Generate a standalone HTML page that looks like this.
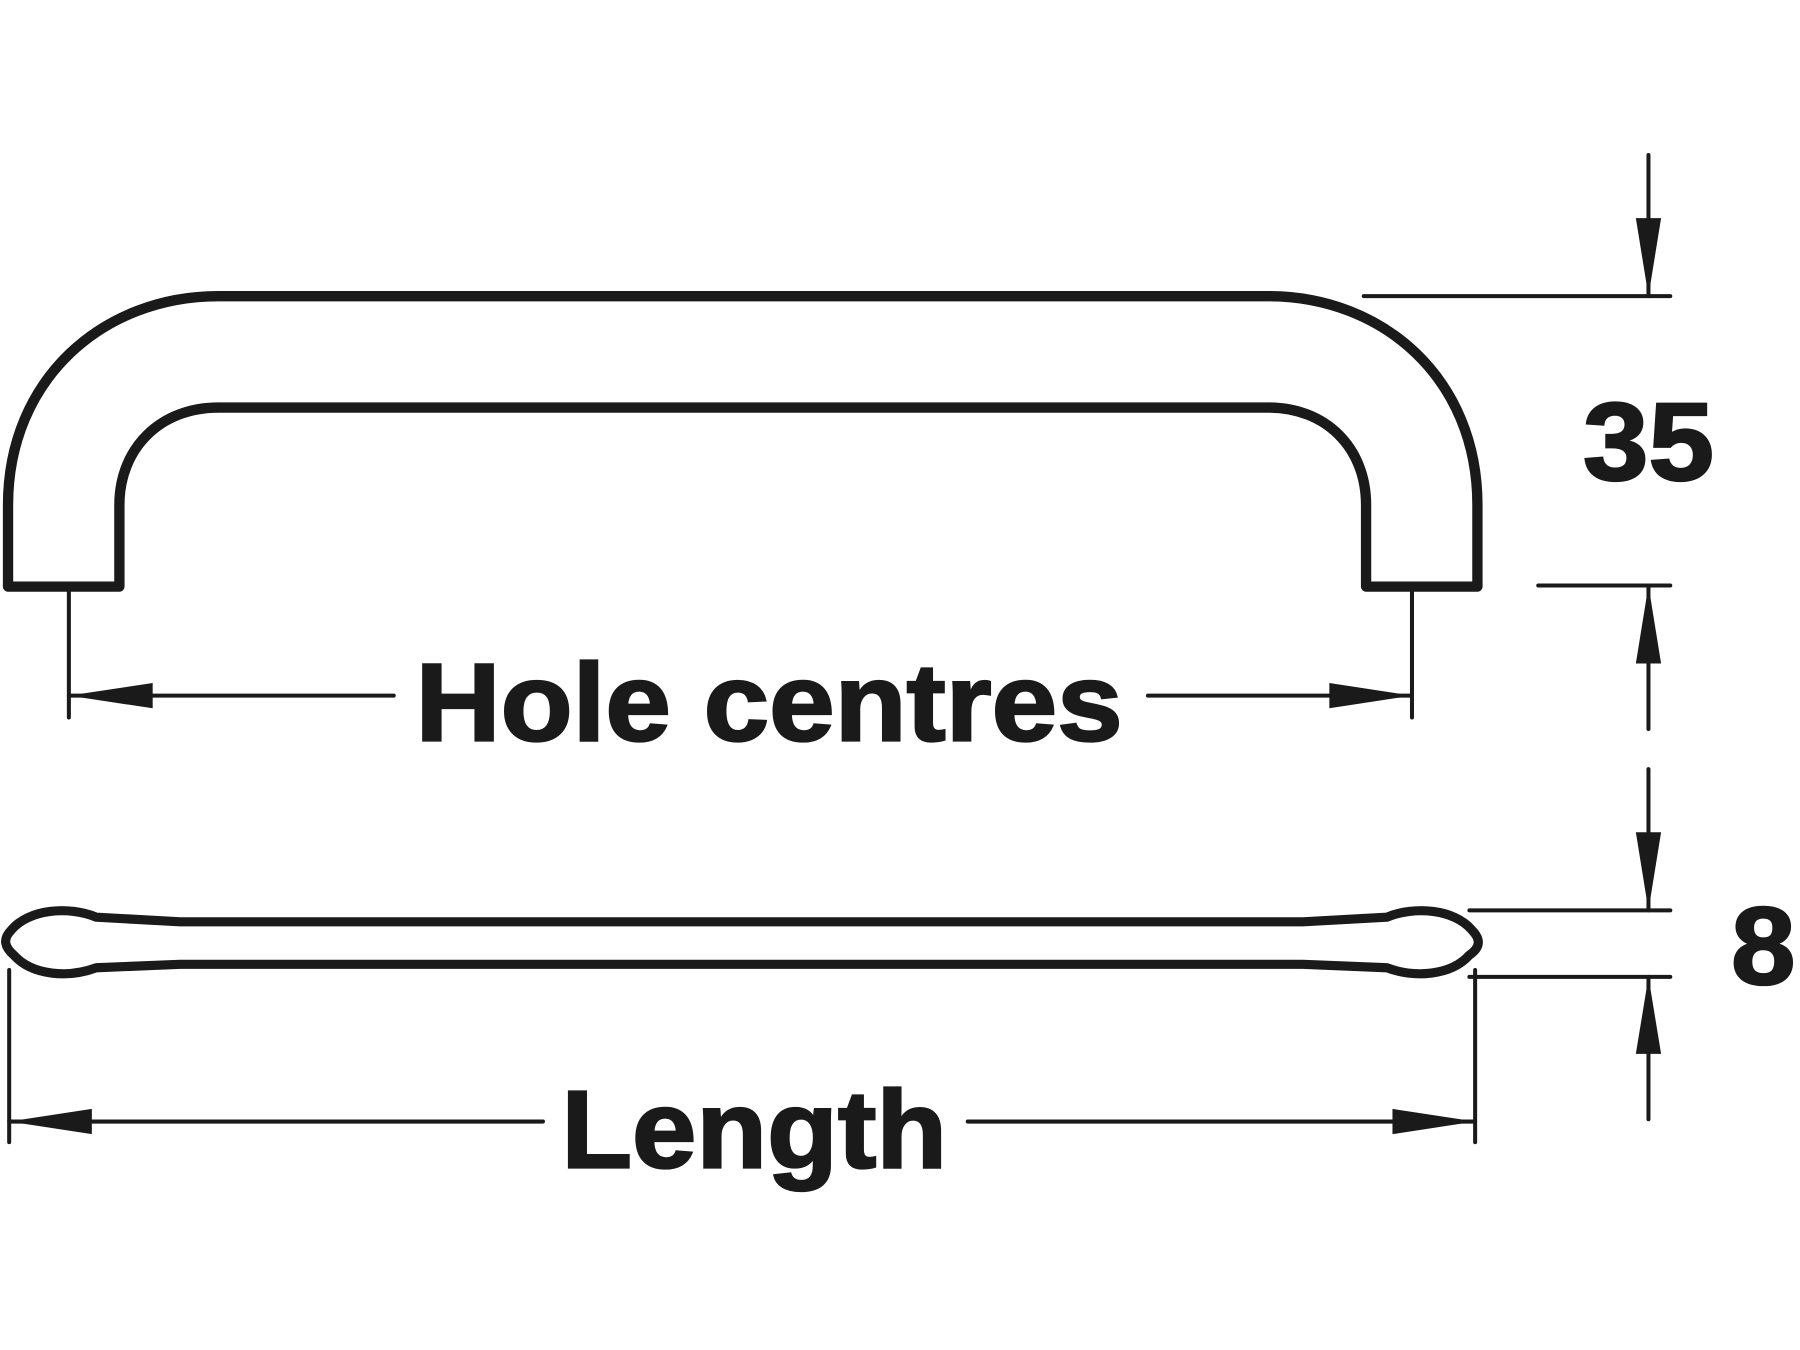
<!DOCTYPE html>
<html><head><style>html,body{margin:0;padding:0;background:#fff}svg{display:block}</style></head>
<body>
<svg width="1800" height="1350" viewBox="0 0 1568 1176" preserveAspectRatio="none" xmlns="http://www.w3.org/2000/svg">
<g fill="none" stroke="#1a1a1a" stroke-linejoin="round" stroke-linecap="round">
<path stroke-width="9" d="M7,511 L7,440 C7,330 90,258 190,258 L1105,258 C1205,258 1287,330 1287,440 L1287,511 L1190,511 L1190,440 C1190,390 1155,355 1105,355 L190,355 C140,355 104,390 104,440 L104,511 Z"/>
<path stroke-width="8" d="M84,799 C60,789 25,792 10,810 C2,818 4,825 12,832 C28,850 60,852 84,843 L157,840 L1135,840 L1208,843 C1232,852 1264,850 1280,832 C1290,825 1290,818 1282,810 C1267,792 1232,789 1208,799 L1135,803 L157,803 Z"/>
<g stroke-width="3.5">
<line x1="60" y1="515" x2="60" y2="625"/><line x1="1230" y1="515" x2="1230" y2="625"/>
<line x1="60" y1="606" x2="343" y2="606"/><line x1="1000" y1="606" x2="1230" y2="606"/>
<line x1="8" y1="845" x2="8" y2="995"/><line x1="1285" y1="845" x2="1285" y2="995"/>
<line x1="8" y1="977" x2="473" y2="977"/><line x1="843" y1="977" x2="1285" y2="977"/>
<line x1="1188" y1="258" x2="1455" y2="258"/><line x1="1436" y1="135" x2="1436" y2="258"/>
<line x1="1340" y1="510" x2="1455" y2="510"/><line x1="1436" y1="510" x2="1436" y2="635"/>
<line x1="1436" y1="670" x2="1436" y2="793"/>
<line x1="1280" y1="793" x2="1455" y2="793"/><line x1="1280" y1="851" x2="1455" y2="851"/>
<line x1="1436" y1="851" x2="1436" y2="975"/>
</g>
</g>
<g fill="#1a1a1a">
<polygon points="60,606 133,595 133,617"/><polygon points="1230,606 1158,595 1158,617"/>
<polygon points="8,977 80,966 80,988"/><polygon points="1285,977 1213,966 1213,988"/>
<polygon points="1436,258 1425,190 1447,190"/><polygon points="1436,510 1425,578 1447,578"/>
<polygon points="1436,793 1425,725 1447,725"/><polygon points="1436,851 1425,918 1447,918"/>
</g>
<g font-family="'Liberation Sans', Arial, sans-serif" font-weight="bold" fill="#1a1a1a" stroke="#1a1a1a" stroke-width="2" font-size="96">
<text x="362" y="645" textLength="616" lengthAdjust="spacingAndGlyphs">Hole centres</text>
<text x="489" y="1017" textLength="336" lengthAdjust="spacingAndGlyphs">Length</text>
<text x="1379" y="418" textLength="114" lengthAdjust="spacingAndGlyphs">35</text>
<text x="1508" y="857" textLength="56" lengthAdjust="spacingAndGlyphs">8</text>
</g>
</svg>
</body></html>
